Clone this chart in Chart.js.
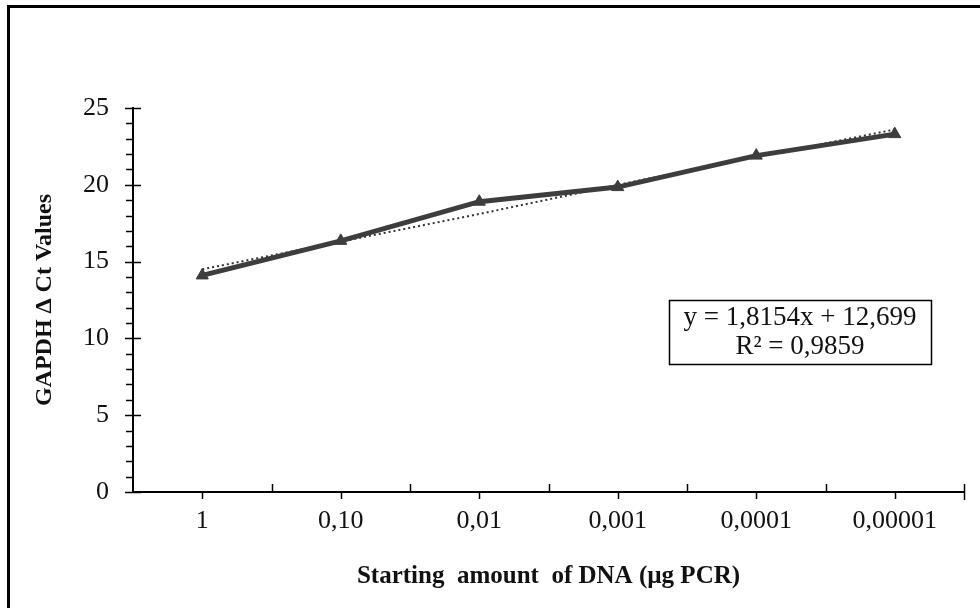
<!DOCTYPE html>
<html>
<head>
<meta charset="utf-8">
<script src="https://cdn.jsdelivr.net/npm/chart.js@4"></script>
<style>
  html, body { margin: 0; padding: 0; background: #fff; }
  canvas { display: block; }
</style>
</head>
<body>
<canvas id="dna-chart" width="980" height="608"></canvas>
<script>
let amountLabels = ["1", "0,10", "0,01", "0,001", "0,0001", "0,00001"];
let deltaCtValues = [14.1, 16.35, 18.9, 19.85, 21.9, 23.3];
// dotted trendline
let trendValues = [14.5, 16.3, 18.1, 20.0, 21.8, 23.6];
let equationLines = ["y = 1,8154x + 12,699", "R\u00b2 = 0,9859"];

const serif = "'Liberation Serif', 'Times New Roman', serif";

// frame on top and left edge, tick marks, equation box
const decorations = {
  id: "decorations",
  afterDraw(chart) {
    const ctx = chart.ctx;
    const x = chart.scales.x;
    const y = chart.scales.y;
    const area = chart.chartArea;
    ctx.save();
    ctx.fillStyle = "#000";
    ctx.fillRect(7, 5, 980, 3);
    ctx.fillRect(7, 5, 3, 608);

    ctx.strokeStyle = "#000";
    ctx.lineWidth = 1.5;
    ctx.beginPath();
    for (let v = 0; v <= 25; v++) {
      const py = Math.round(y.getPixelForValue(v)) + 0.5;
      if (v % 5 === 0) {
        ctx.moveTo(area.left - 8, py);
        ctx.lineTo(area.left + 8, py);
      } else {
        ctx.moveTo(area.left - 7, py);
        ctx.lineTo(area.left, py);
      }
    }
    const n = amountLabels.length;
    const half = (x.getPixelForValue(1) - x.getPixelForValue(0)) / 2;
    for (let i = 0; i < n; i++) {
      const px = Math.round(x.getPixelForValue(i)) + 0.5;
      ctx.moveTo(px, area.bottom);
      ctx.lineTo(px, area.bottom + 7);
      const bx = Math.round(x.getPixelForValue(i) + half) + 0.5;
      ctx.moveTo(bx, area.bottom - 8);
      ctx.lineTo(bx, area.bottom + (i === n - 1 ? 8 : 0));
    }
    ctx.stroke();

    // equation box
    const boxLeft = area.right - 295;
    const boxTop = area.top + 192;
    const boxW = 262;
    const boxH = 64;
    ctx.lineWidth = 1.5;
    ctx.strokeRect(boxLeft + 0.5, boxTop + 0.5, boxW, boxH);
    ctx.fillStyle = "#111";
    ctx.font = "27px " + serif;
    ctx.textAlign = "center";
    ctx.textBaseline = "middle";
    ctx.fillText(equationLines[0], boxLeft + boxW / 2, boxTop + 18);
    ctx.fillText(equationLines[1], boxLeft + boxW / 2, boxTop + 47);
    ctx.restore();
  },
};

new Chart(document.getElementById("dna-chart"), {
  type: "line",
  data: {
    labels: amountLabels,
    datasets: [
      {
        data: deltaCtValues,
        borderColor: "#3d3d3d",
        backgroundColor: "#3d3d3d",
        borderWidth: 5,
        pointStyle: "triangle",
        pointRadius: 7,
        pointBorderWidth: 1,
        tension: 0,
      },
      {
        data: trendValues,
        borderColor: "#333",
        borderWidth: 2,
        borderDash: [2, 3],
        pointRadius: 0,
        tension: 0,
      },
    ],
  },
  options: {
    responsive: false,
    animation: false,
    layout: {
      padding: { top: 108, right: 16, bottom: 0, left: 0 },
    },
    plugins: {
      legend: { display: false },
      tooltip: { enabled: false },
    },
    scales: {
      x: {
        offset: true,
        grid: { display: false },
        border: { display: true, color: "#000", width: 2 },
        ticks: {
          color: "#111",
          padding: 6,
          maxRotation: 0,
          font: { family: serif, size: 26 },
        },
        title: {
          display: true,
          text: "Starting  amount  of DNA (\u00b5g PCR)",
          color: "#111",
          font: { family: serif, size: 25, weight: "bold" },
          padding: { top: 0, bottom: 16 },
        },
        afterFit(scale) {
          scale.height = 116;
        },
      },
      y: {
        min: 0,
        max: 25,
        grid: { display: false },
        border: { display: true, color: "#000", width: 2 },
        ticks: {
          stepSize: 5,
          color: "#111",
          padding: 16,
          font: { family: serif, size: 26 },
        },
        title: {
          display: true,
          text: "GAPDH \u0394 Ct Values",
          color: "#111",
          font: { family: serif, size: 24, weight: "bold" },
          padding: { top: 30, bottom: 0 },
        },
        afterFit(scale) {
          scale.width = 133;
        },
      },
    },
  },
  plugins: [decorations],
});
</script>
</body>
</html>
